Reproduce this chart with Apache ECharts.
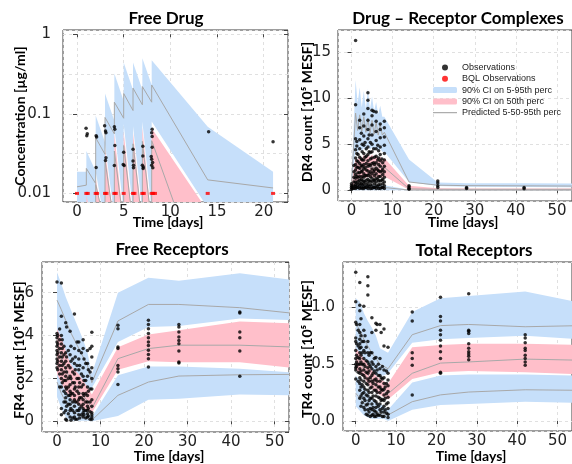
<!DOCTYPE html>
<html>
<head>
<meta charset="utf-8">
<script src="https://cdn.jsdelivr.net/npm/echarts/dist/echarts.min.js"></script>
<style>
  html, body { margin: 0; padding: 0; background: #fff; }
  #main { width: 572px; height: 464px; }
</style>
</head>
<body>
<div id="main"></div>
<script>
// ---- Free drug (log scale) ----
var fdTime = [0, 1, 1, 2, 2, 3, 3, 4, 4, 5, 5, 6, 6, 7, 7, 8, 8, 14, 21];
var fdHi95 = [0.0187, 0.0187, 0.034, 0.019, 0.095, 0.044, 0.18, 0.082, 0.32, 0.145, 0.44, 0.2, 0.44, 0.2, 0.5, 0.23, 0.47, 0.069, 0.0187];
var fdLo95 = [0.005, 0.005, 0.005, 0.004, 0.019, 0.004, 0.042, 0.005, 0.068, 0.006, 0.075, 0.006, 0.07, 0.006, 0.08, 0.006, 0.08, 0.0066, 0.004];
var fdHi50 = [0.003, 0.003, 0.0095, 0.003, 0.0156, 0.003, 0.035, 0.004, 0.057, 0.004, 0.06, 0.004, 0.058, 0.004, 0.068, 0.004, 0.066, 0.006, 0.003];
var fdLo50 = [0.001, 0.001, 0.001, 0.001, 0.001, 0.001, 0.001, 0.001, 0.001, 0.001, 0.001, 0.001, 0.001, 0.001, 0.001, 0.001, 0.001, 0.001, 0.001];
var fdP95 = [0.0121, 0.0127, 0.0206, 0.0133, 0.05, 0.031, 0.09, 0.056, 0.14, 0.088, 0.18, 0.11, 0.21, 0.13, 0.22, 0.14, 0.23, 0.0148, 0.0117];
var fdP50 = [0.003, 0.003, 0.006, 0.003, 0.013, 0.004, 0.026, 0.004, 0.034, 0.004, 0.04, 0.004, 0.042, 0.004, 0.045, 0.004, 0.046, 0.0005, 0.0005];
var fdObs = [[0.97, 0.066], [1.1, 0.056], [1.05, 0.053], [2.05, 0.053], [2.1, 0.051], [2.05, 0.0212],
  [2.96, 0.071], [3.05, 0.061], [3.1, 0.058], [3.1, 0.028], [3.05, 0.026],
  [4.0, 0.069], [4.05, 0.064], [4.05, 0.040], [4.0, 0.0225], [5.0, 0.033], [4.95, 0.023], [5.05, 0.0225],
  [6.0, 0.036], [6.0, 0.0255], [6.05, 0.0226], [6.05, 0.021], [7.05, 0.039], [7.05, 0.0295], [7.0, 0.0226],
  [7.1, 0.0215], [7.08, 0.0205], [8.05, 0.064], [8.0, 0.058], [8.05, 0.052], [8.05, 0.038], [7.95, 0.029],
  [8.0, 0.0268], [8.1, 0.0245], [8.0, 0.0226], [8.12, 0.021], [14.1, 0.0596], [21.0, 0.0447]];
var fdBql = [[0, 0.01], [1, 0.01], [1.15, 0.01], [2, 0.01], [2.15, 0.01], [3, 0.01], [3.15, 0.01], [4, 0.01],
  [4.15, 0.01], [5, 0.01], [6, 0.01], [6.15, 0.01], [7, 0.01], [7.15, 0.01], [8, 0.01], [8.15, 0.01],
  [8.35, 0.01], [14, 0.01], [21, 0.01]];

// ---- Drug-receptor complexes ----
var drTime = [0, 1, 1.5, 2, 2.5, 3, 3.5, 4, 4.5, 5, 5.5, 6, 6.5, 7, 7.5, 8, 14, 21, 28, 42, 56];
var drHi95 = [1.2, 12.0, 9.5, 11.2, 9.0, 10.8, 8.8, 11.0, 8.8, 10.2, 8.6, 9.6, 8.3, 9.2, 8.0, 8.0, 3.35, 0.85, 0.75, 0.75, 0.72];
var drLo95 = [0.3, 4.5, 4.0, 4.6, 4.2, 4.6, 4.3, 4.8, 4.4, 4.7, 4.3, 4.6, 4.3, 4.5, 4.2, 4.2, 0.9, 0.45, 0.38, 0.35, 0.33];
var drHi50 = [0.6, 3.6, 3.2, 3.8, 3.4, 3.9, 3.5, 4.0, 3.6, 3.9, 3.5, 3.8, 3.4, 3.7, 3.3, 3.5, 0.5, 0.22, 0.2, 0.2, 0.2];
var drLo50 = [0.1, 1.0, 1.0, 1.3, 1.2, 1.4, 1.3, 1.5, 1.3, 1.5, 1.3, 1.5, 1.3, 1.5, 1.3, 1.5, 0.05, 0.02, 0.02, 0.02, 0.02];
var drHi5 = [0.2, 0.6, 0.55, 0.6, 0.55, 0.6, 0.55, 0.6, 0.55, 0.6, 0.55, 0.6, 0.55, 0.6, 0.55, 0.55, 0.05, 0.03, 0.03, 0.03, 0.03];
var drLo5 = [0, 0, 0, 0, 0, 0, 0, 0, 0, 0, 0, 0, 0, 0, 0, 0, 0, 0, 0, 0, 0];
var drP95 = [0.8, 8.4, 6.5, 8.2, 6.4, 8.0, 6.3, 7.8, 6.2, 7.6, 6.1, 7.4, 6.0, 7.2, 6.0, 6.3, 0.9, 0.55, 0.5, 0.48, 0.45];
var drP50 = [0.3, 2.0, 1.8, 2.4, 2.1, 2.6, 2.3, 2.7, 2.4, 2.7, 2.4, 2.7, 2.4, 2.6, 2.4, 2.5, 0.15, 0.1, 0.1, 0.1, 0.1];
var drP5 = [0.05, 0.25, 0.25, 0.3, 0.28, 0.3, 0.28, 0.3, 0.28, 0.3, 0.28, 0.3, 0.28, 0.3, 0.28, 0.3, 0.02, 0.01, 0.01, 0.01, 0.01];
var drObsDays = [0, 0.2, 1, 1.3, 2, 2.4, 3, 3.3, 4, 4.3, 5, 5.4, 6, 6.4, 7, 7.4, 8, 14, 21, 28, 42,
  0.6, 1.6, 2.6, 3.6, 4.6, 5.6, 6.6, 7.6];
var drObsVals = [
  [0.1, 0.3, 0.5, 0.7],
  [0.2, 0.4],
  [0.2, 0.4, 0.6, 0.9, 1.3, 1.7, 2.2, 2.8, 3.5, 4.4, 5.6, 9.3, 16.3],
  [0.3, 0.8, 1.5, 2.5, 3.2, 4.0, 4.8, 5.3],
  [0.2, 0.5, 0.8, 1.1, 1.5, 1.9, 2.4, 2.9, 3.6, 4.5, 5.5, 6.8, 7.6],
  [0.3, 0.7, 1.2, 2.0, 2.7, 3.4, 6.2],
  [0.2, 0.4, 0.7, 1.0, 1.4, 1.8, 2.3, 2.8, 3.3, 4.0, 4.9, 5.9, 7.0, 8.3],
  [0.3, 0.9, 1.6, 2.5, 3.6, 5.2],
  [0.2, 0.5, 0.8, 1.2, 1.6, 2.1, 2.6, 3.2, 3.9, 4.7, 5.6, 6.6, 7.6, 8.9, 9.8, 10.6],
  [0.4, 1.0, 1.8, 2.8, 4.2, 6.0],
  [0.2, 0.5, 0.9, 1.3, 1.8, 2.3, 2.9, 3.5, 4.2, 5.0, 6.0, 7.1, 8.1, 8.7],
  [0.3, 1.1, 2.0, 3.0, 4.5, 8.6],
  [0.2, 0.5, 0.9, 1.3, 1.8, 2.4, 3.0, 3.7, 4.5, 5.4, 6.4, 7.5, 8.5],
  [0.4, 1.2, 2.2, 3.3, 4.9],
  [0.2, 0.6, 1.0, 1.5, 2.0, 2.6, 3.2, 3.9, 4.7, 5.7, 6.6, 7.2],
  [0.3, 1.1, 2.1, 3.4],
  [0.2, 0.5, 0.9, 1.4, 2.0, 2.6, 3.3, 4.0, 4.9, 5.8, 6.8, 7.5],
  [0.1, 0.2, 0.35, 0.5],
  [0.3, 0.5, 0.8, 1.0],
  [0.2, 0.3],
  [0.15, 0.3],
  [0.2, 0.5, 0.9, 1.4, 2.0, 2.7],
  [0.3, 0.6, 1.0, 1.4, 1.9, 2.5, 3.1, 3.9],
  [0.2, 0.6, 1.0, 1.5, 2.1, 2.6, 3.3, 4.2, 5.0],
  [0.3, 0.6, 1.1, 1.6, 2.2, 2.9, 3.7, 4.5],
  [0.2, 0.6, 1.0, 1.5, 2.0, 2.7, 3.4, 4.1, 5.2],
  [0.3, 0.7, 1.1, 1.6, 2.2, 2.8, 3.6],
  [0.2, 0.6, 1.0, 1.5, 2.1, 2.8, 3.5, 4.3],
  [0.3, 0.7, 1.2, 1.7, 2.3, 3.0]
];

// ---- Free receptors ----
var frTime = [0, 1, 2, 3, 4, 5, 6, 7, 8, 14, 21, 28, 42, 56];
var frHi95 = [6.95, 6.4, 5.8, 5.3, 4.8, 4.3, 3.8, 3.2, 2.2, 6.0, 6.7, 6.55, 6.9, 6.55];
var frLo95 = [4.0, 3.5, 3.0, 2.6, 2.3, 2.0, 1.7, 1.5, 1.55, 3.7, 4.4, 4.45, 4.8, 4.7];
var frHi50 = [4.3, 3.9, 3.3, 2.7, 2.4, 2.2, 1.9, 1.6, 1.25, 3.45, 4.05, 4.25, 4.65, 4.55];
var frLo50 = [2.2, 1.8, 1.4, 1.1, 0.9, 0.75, 0.6, 0.5, 0.4, 2.4, 2.8, 2.75, 2.75, 2.45];
var frHi5 = [2.5, 2.0, 1.6, 1.2, 1.0, 0.8, 0.6, 0.45, 0.2, 2.15, 2.55, 2.55, 2.45, 2.25];
var frLo5 = [1.13, 0.6, 0.2, 0.03, 0.02, 0.02, 0.02, 0.02, 0.0, 0.25, 1.0, 1.05, 1.25, 1.2];
var frP95 = [5.65, 5.2, 4.7, 4.2, 3.8, 3.4, 3.0, 2.6, 1.8, 4.68, 5.45, 5.45, 5.3, 5.0];
var frP50 = [3.6, 3.0, 2.4, 2.0, 1.7, 1.4, 1.2, 0.95, 0.6, 2.92, 3.39, 3.55, 3.55, 3.45];
var frP5 = [1.83, 1.3, 0.9, 0.6, 0.4, 0.3, 0.2, 0.12, 0.05, 1.21, 1.83, 2.11, 2.17, 2.19];
var frObsDays = [0, 0.15, 1, 1.2, 2, 2.2, 3, 3.2, 4, 4.2, 5, 5.2, 6, 6.2, 7, 7.2, 8, 14, 21, 28, 42,
  0.6, 1.6, 2.6, 3.6, 4.6, 5.6, 6.6, 7.6];
var frObsVals = [
  [6.5, 4.1, 3.9, 3.7, 3.5, 3.3, 3.1, 2.9, 2.7, 2.5],
  [4.0, 3.6, 3.2, 2.8, 2.4],
  [6.45, 4.9, 4.0, 3.6, 3.2, 2.8, 2.4, 2.0, 1.6, 0.6, 0.3],
  [3.8, 3.4, 3.0, 2.6, 2.2, 1.8],
  [4.6, 3.2, 2.8, 2.5, 2.1, 1.9, 1.6, 1.3, 1.1, 0.9, 0.5, 0.1],
  [4.4, 3.0, 2.3, 1.5, 0.7, 0.05],
  [4.2, 3.1, 2.5, 2.1, 1.7, 1.4, 1.2, 1.0, 0.8, 0.5, 0.2],
  [3.5, 2.8, 2.0, 1.3, 0.6, 0.05],
  [5.0, 3.4, 2.7, 2.2, 1.8, 1.5, 1.2, 1.0, 0.7, 0.4, 0.2],
  [3.0, 2.4, 1.6, 0.9, 0.1],
  [3.7, 3.3, 2.9, 2.4, 2.0, 1.6, 1.3, 1.0, 0.8, 0.5, 0.3],
  [2.6, 1.8, 1.1, 0.6, 0.15],
  [3.8, 3.4, 2.5, 2.1, 1.7, 1.3, 1.0, 0.8, 0.6, 0.4, 0.2],
  [2.9, 1.9, 1.2, 0.5, 0.3],
  [3.3, 2.7, 2.1, 1.6, 1.2, 0.9, 0.7, 0.5, 0.35, 0.2],
  [2.4, 1.4, 0.6, 0.25],
  [4.15, 3.5, 3.0, 2.5, 2.0, 1.5, 1.0, 0.7, 0.4, 0.3, 0.2, 0.1],
  [4.48, 4.32, 3.47, 3.4, 2.6, 2.45, 2.3, 1.72],
  [4.71, 4.52, 4.32, 4.09, 3.9, 3.7, 3.54, 3.31, 3.12, 2.92, 2.53],
  [4.52, 4.4, 4.16, 3.93, 3.77, 3.62, 3.28, 2.77, 2.72],
  [5.1, 5.05, 4.16, 3.9, 3.28, 2.1],
  [4.3, 3.8, 3.4, 3.0, 2.6, 2.2, 1.6],
  [3.5, 3.1, 2.7, 2.3, 1.9, 1.4, 0.9, 0.4],
  [3.3, 2.6, 2.0, 1.6, 1.2, 0.8, 0.35],
  [2.9, 2.3, 1.8, 1.3, 0.9, 0.5, 0.15],
  [3.7, 2.6, 2.0, 1.4, 0.9, 0.5, 0.1],
  [3.2, 2.2, 1.6, 1.1, 0.7, 0.3],
  [2.7, 1.9, 1.3, 0.9, 0.5, 0.15],
  [3.4, 2.3, 1.5, 0.9, 0.45, 0.1]
];

// ---- Total receptors ----
var trTime = [0, 1, 2, 3, 4, 5, 6, 7, 8, 14, 21, 28, 42, 56];
var trHi95 = [1.08, 1.05, 0.95, 0.88, 0.82, 0.75, 0.64, 0.62, 0.6, 0.96, 1.08, 1.1, 1.14, 1.04];
var trLo95 = [0.5, 0.5, 0.48, 0.45, 0.42, 0.4, 0.4, 0.4, 0.42, 0.69, 0.72, 0.73, 0.75, 0.72];
var trHi50 = [0.64, 0.6, 0.55, 0.5, 0.45, 0.4, 0.37, 0.35, 0.33, 0.65, 0.67, 0.68, 0.68, 0.67];
var trLo50 = [0.45, 0.42, 0.38, 0.33, 0.28, 0.25, 0.23, 0.21, 0.19, 0.37, 0.43, 0.44, 0.43, 0.41];
var trHi5 = [0.4, 0.36, 0.3, 0.25, 0.2, 0.17, 0.15, 0.13, 0.1, 0.34, 0.4, 0.41, 0.41, 0.4];
var trLo5 = [0.13, 0.09, 0.05, 0.03, 0.02, 0.02, 0.02, 0.02, 0.0, 0.1, 0.14, 0.15, 0.17, 0.16];
var trP95 = [0.86, 0.8, 0.72, 0.66, 0.6, 0.55, 0.5, 0.48, 0.46, 0.76, 0.84, 0.85, 0.83, 0.84];
var trP50 = [0.58, 0.52, 0.46, 0.41, 0.36, 0.32, 0.29, 0.26, 0.24, 0.42, 0.51, 0.52, 0.545, 0.535];
var trP5 = [0.245, 0.2, 0.16, 0.13, 0.1, 0.08, 0.07, 0.06, 0.053, 0.17, 0.23, 0.255, 0.275, 0.27];
var trObsDays = [0, 0.2, 1, 1.3, 2, 2.3, 3, 3.3, 4, 4.3, 5, 5.3, 6, 6.3, 7, 7.3, 8, 14, 21, 28, 42,
  0.6, 1.6, 2.6, 3.6, 4.6, 5.6, 6.6, 7.6];
var trObsVals = [
  [1.31, 1.05, 0.87, 0.73, 0.7, 0.62, 0.55, 0.5, 0.47, 0.45, 0.37],
  [0.85, 0.68, 0.58, 0.52, 0.48],
  [1.22, 1.02, 0.97, 0.85, 0.78, 0.72, 0.68, 0.64, 0.6, 0.55, 0.5, 0.46, 0.42, 0.38, 0.33, 0.27, 0.2],
  [0.9, 0.75, 0.65, 0.58, 0.52, 0.44, 0.36, 0.3, 0.22, 0.13],
  [1.01, 0.8, 0.7, 0.62, 0.55, 0.5, 0.45, 0.4, 0.35, 0.3, 0.25, 0.2, 0.12],
  [0.75, 0.6, 0.48, 0.38, 0.28, 0.18, 0.1],
  [1.27, 1.19, 1.11, 0.7, 0.6, 0.52, 0.47, 0.42, 0.37, 0.32, 0.27, 0.22, 0.15, 0.1, 0.05],
  [0.58, 0.5, 0.44, 0.35, 0.25, 0.18, 0.08],
  [0.91, 0.78, 0.6, 0.52, 0.46, 0.4, 0.35, 0.3, 0.25, 0.2, 0.15, 0.1, 0.05],
  [0.5, 0.42, 0.33, 0.22, 0.12, 0.06],
  [0.86, 0.8, 0.56, 0.48, 0.42, 0.37, 0.32, 0.27, 0.22, 0.17, 0.12, 0.08, 0.04],
  [0.85, 0.45, 0.35, 0.25, 0.15, 0.06],
  [0.85, 0.55, 0.46, 0.4, 0.35, 0.3, 0.25, 0.2, 0.15, 0.1, 0.05],
  [0.78, 0.38, 0.28, 0.18, 0.08],
  [0.81, 0.66, 0.45, 0.38, 0.33, 0.28, 0.23, 0.18, 0.13, 0.08, 0.04],
  [0.3, 0.2, 0.1],
  [0.65, 0.42, 0.36, 0.31, 0.26, 0.21, 0.16, 0.11, 0.06, 0.03],
  [0.96, 0.88, 0.6, 0.55, 0.49, 0.23],
  [1.09, 0.92, 0.88, 0.8, 0.76, 0.71, 0.66, 0.61, 0.55, 0.43, 0.42],
  [1.12, 0.8, 0.79, 0.77, 0.68, 0.64, 0.61, 0.59, 0.57, 0.54],
  [0.76, 0.73, 0.69, 0.64, 0.62, 0.58, 0.55, 0.52, 0.49],
  [0.8, 0.66, 0.56, 0.5, 0.43, 0.35],
  [0.7, 0.6, 0.5, 0.41, 0.32, 0.24, 0.16],
  [0.65, 0.53, 0.43, 0.33, 0.23, 0.14, 0.06],
  [0.6, 0.48, 0.38, 0.29, 0.2, 0.11, 0.04],
  [0.55, 0.44, 0.36, 0.27, 0.18, 0.09, 0.04],
  [0.5, 0.4, 0.3, 0.21, 0.13, 0.05],
  [0.48, 0.37, 0.27, 0.19, 0.11, 0.04],
  [0.44, 0.33, 0.24, 0.15, 0.07]
];

var BLUE = '#c6dffa', PINK = '#ffbfca', GRAY = '#a8a8a8';
var TICKFONT = 'DejaVu Sans';

function pairs(t, v) {
  return t.map(function (x, i) { return [x, v[i]]; });
}
function cols(days, vals) {
  var out = [];
  days.forEach(function (d, i) {
    vals[i].forEach(function (v) { out.push([d, v]); });
  });
  return out;
}

// band between lo and hi drawn as one polygon
function band(name, g, t, lo, hi, color) {
  return {
    type: 'custom', name: name, xAxisIndex: g, yAxisIndex: g,
    clip: true, silent: true, z: 1,
    itemStyle: { color: color },
    data: [[t[0], hi[0]]],
    renderItem: function (params, api) {
      var pts = [];
      for (var i = 0; i < t.length; i++) pts.push(api.coord([t[i], hi[i]]));
      for (var j = t.length - 1; j >= 0; j--) pts.push(api.coord([t[j], lo[j]]));
      return { type: 'polygon', shape: { points: pts }, style: { fill: color } };
    }
  };
}
function pline(g, t, v) {
  return {
    type: 'line', name: 'Predicted 5-50-95th perc', xAxisIndex: g, yAxisIndex: g,
    data: pairs(t, v), symbol: 'none', silent: true, z: 3,
    lineStyle: { color: GRAY, width: 1 }, itemStyle: { color: GRAY }
  };
}
function obs(g, data) {
  return {
    type: 'scatter', name: 'Observations', xAxisIndex: g, yAxisIndex: g,
    data: data, symbol: 'circle', symbolSize: 3.5, silent: true, z: 4,
    itemStyle: { color: '#000' }
  };
}

var series = [
  band('90% CI on 5-95th perc', 0, fdTime, fdLo95, fdHi95, BLUE),
  band('90% CI on 50th perc', 0, fdTime, fdLo50, fdHi50, PINK),
  pline(0, fdTime, fdP95), pline(0, fdTime, fdP50),
  obs(0, fdObs),
  { type: 'scatter', name: 'BQL Observations', xAxisIndex: 0, yAxisIndex: 0, data: fdBql,
    symbol: 'rect', symbolSize: [4, 3], silent: true, z: 4, itemStyle: { color: '#ff0000' } },

  band('90% CI on 5-95th perc', 1, drTime, drLo95, drHi95, BLUE),
  band('90% CI on 5-95th perc', 1, drTime, drLo5, drHi5, BLUE),
  band('90% CI on 50th perc', 1, drTime, drLo50, drHi50, PINK),
  pline(1, drTime, drP95), pline(1, drTime, drP50), pline(1, drTime, drP5),
  obs(1, cols(drObsDays, drObsVals)),

  band('90% CI on 5-95th perc', 2, frTime, frLo95, frHi95, BLUE),
  band('90% CI on 5-95th perc', 2, frTime, frLo5, frHi5, BLUE),
  band('90% CI on 50th perc', 2, frTime, frLo50, frHi50, PINK),
  pline(2, frTime, frP95), pline(2, frTime, frP50), pline(2, frTime, frP5),
  obs(2, cols(frObsDays, frObsVals)),

  band('90% CI on 5-95th perc', 3, trTime, trLo95, trHi95, BLUE),
  band('90% CI on 5-95th perc', 3, trTime, trLo5, trHi5, BLUE),
  band('90% CI on 50th perc', 3, trTime, trLo50, trHi50, PINK),
  pline(3, trTime, trP95), pline(3, trTime, trP50), pline(3, trTime, trP5),
  obs(3, cols(trObsDays, trObsVals))
];

// layout
var grids = [
  { left: 63, top: 30, width: 225, height: 172 },
  { left: 338, top: 30, right: -4, height: 171 },
  { left: 42, top: 262, width: 247, height: 170 },
  { left: 343, top: 262, right: -5, height: 169 }
];
var xRanges = [[-1.5, 22.6], [-3.28, 53.66], [-3.45, 53.3], [-3.16, 53.6]];
var yRanges = [[0.0078, 1.13], [-1.17, 17.43], [-0.5, 7.43], [-0.088, 1.4]];
var ySplit = [5, 4, 5, 3];
var yMargin = [12, 7, 8, 8];

var dash = { color: '#e0e0e0', type: [3, 3], width: 1 };

var xAxes = grids.map(function (g, i) {
  return {
    type: 'value', gridIndex: i, min: xRanges[i][0], max: xRanges[i][1], splitNumber: 5,
    axisLine: { show: false },
    axisTick: { show: true, length: 3, lineStyle: { color: '#444' } },
    axisLabel: { margin: 3, fontFamily: TICKFONT, fontSize: 15, color: '#222',
      showMinLabel: false, showMaxLabel: false },
    splitLine: { show: true, lineStyle: dash }
  };
});

var yAxes = grids.map(function (g, i) {
  var ax = {
    type: i === 0 ? 'log' : 'value', gridIndex: i, position: 'left',
    min: yRanges[i][0], max: yRanges[i][1], splitNumber: ySplit[i],
    axisLine: { show: false },
    axisTick: { show: true, length: 4, lineStyle: { color: '#444' } },
    axisLabel: { margin: yMargin[i], fontFamily: TICKFONT, fontSize: 15, color: '#222',
      showMinLabel: false, showMaxLabel: false },
    splitLine: { show: i !== 0, lineStyle: dash }
  };
  if (i === 0) {
    ax.logBase = 10;
    ax.axisLabel.formatter = function (v) { return v >= 1 ? String(Math.round(v)) : String(+v.toPrecision(1)); };
  }
  if (i === 3) ax.axisLabel.formatter = function (v) { return v.toFixed(1); };
  return ax;
});
// inner ticks on the right side of the left-hand panels
[0, 2].forEach(function (i) {
  yAxes.push({
    type: i === 0 ? 'log' : 'value', logBase: 10, gridIndex: i, position: 'right',
    min: yRanges[i][0], max: yRanges[i][1], splitNumber: ySplit[i],
    axisLine: { show: false }, axisLabel: { show: false }, splitLine: { show: false },
    axisTick: { show: true, inside: true, length: 4, lineStyle: { color: '#444' } }
  });
});
// half-decade grid lines for the log panel
yAxes.push({
  type: 'value', gridIndex: 0, position: 'left',
  min: Math.log10(yRanges[0][0]), max: Math.log10(yRanges[0][1]), splitNumber: 5,
  axisLine: { show: false }, axisLabel: { show: false }, axisTick: { show: false },
  splitLine: { show: true, lineStyle: dash }
});

function txt(s, x, y, font, rot) {
  return { type: 'text', x: x, y: y, rotation: rot || 0, silent: true,
    style: { text: s, font: font, fill: '#000', textAlign: 'center', textVerticalAlign: 'middle' } };
}
var TF = 'bold 17px Lato', AF = 'bold 14px Lato', R = Math.PI / 2;

var chart = echarts.init(document.getElementById('main'));
chart.setOption({
  animation: false,
  backgroundColor: '#fff',
  grid: grids.map(function (g) {
    return Object.assign({ show: true, borderColor: '#3a3a3a', borderWidth: 1, backgroundColor: 'transparent' }, g);
  }),
  xAxis: xAxes,
  yAxis: yAxes,
  legend: {
    left: 428, top: 57, orient: 'vertical', itemWidth: 24, itemHeight: 6, itemGap: 0.3,
    selectedMode: false,
    textStyle: { fontFamily: 'Liberation Sans', fontSize: 9, color: '#222', lineHeight: 11 },
    data: [
      { name: 'Observations', icon: 'circle', itemStyle: { color: '#000' } },
      { name: 'BQL Observations', icon: 'circle', itemStyle: { color: '#ff0000' } },
      { name: '90% CI on 5-95th perc', icon: 'roundRect', itemStyle: { color: BLUE } },
      { name: '90% CI on 50th perc', icon: 'roundRect', itemStyle: { color: PINK } },
      { name: 'Predicted 5-50-95th perc', icon: 'path://M0,0H24V1H0Z', itemStyle: { color: '#999' } }
    ]
  },
  graphic: [
    txt('Free Drug', 166, 19, TF),
    txt('Drug \u2013 Receptor Complexes', 458, 19, TF),
    txt('Free Receptors', 172, 250, TF),
    txt('Total Receptors', 474, 251, TF),
    txt('Concentration [\u00b5g/ml]', 20, 116, AF, R),
    txt('DR4 count [10\u2075 MESF]', 307, 112, AF, R),
    txt('FR4 count [10\u2075 MESF]', 19, 350, AF, R),
    txt('TR4 count [10\u2075 MESF]', 307, 349, AF, R),
    txt('Time [days]', 168, 222, AF),
    txt('Time [days]', 463, 222, AF),
    txt('Time [days]', 169, 456, AF),
    txt('Time [days]', 471, 456, AF)
  ],
  series: series
});
</script>
</body>
</html>
